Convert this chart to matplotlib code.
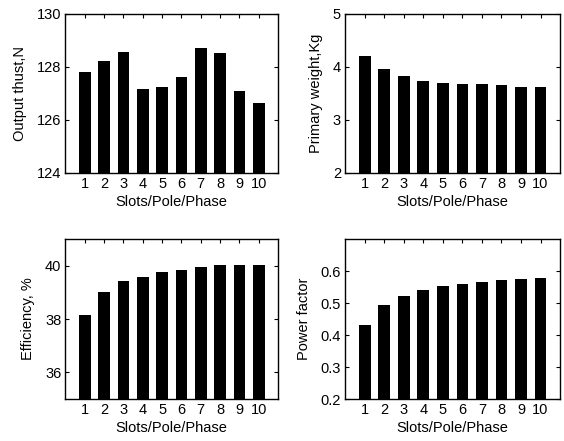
import numpy as np
import matplotlib.pyplot as plt

plt.rcParams['font.family'] = ['Liberation Sans', 'DejaVu Sans']

slots = np.arange(1, 11)
thrust = [127.82, 128.23, 128.57, 127.17, 127.22, 127.63, 128.70, 128.53, 127.08, 126.62]
weight = [4.21, 3.95, 3.82, 3.74, 3.69, 3.67, 3.67, 3.65, 3.61, 3.61]
efficiency = [38.16, 39.03, 39.42, 39.59, 39.77, 39.85, 39.96, 40.01, 40.01, 40.01]
power_factor = [0.430, 0.495, 0.522, 0.540, 0.554, 0.560, 0.565, 0.572, 0.575, 0.578]

panels = [
    (thrust, "Output thust,N", (124, 130), [124, 126, 128, 130], [0.116, 0.608, 0.377, 0.361]),
    (weight, "Primary weight,Kg", (2, 5), [2, 3, 4, 5], [0.612, 0.608, 0.381, 0.361]),
    (efficiency, "Efficiency, %", (35, 41), [36, 38, 40], [0.116, 0.095, 0.377, 0.363]),
    (power_factor, "Power factor", (0.2, 0.7), [0.2, 0.3, 0.4, 0.5, 0.6], [0.612, 0.095, 0.381, 0.363]),
]

fig = plt.figure(figsize=(5.64, 4.41), dpi=100)
for vals, ylab, ylim, yticks, pos in panels:
    ax = fig.add_axes(pos)
    ax.bar(slots, np.array(vals) - ylim[0], bottom=ylim[0], width=0.6, color='black')
    ax.set_xlim(0, 11)
    ax.set_ylim(*ylim)
    ax.set_xticks(slots)
    ax.set_yticks(yticks)
    ax.set_xlabel("Slots/Pole/Phase", fontsize=10.5, labelpad=3)
    ax.set_ylabel(ylab, fontsize=10.5, labelpad=7)
    ax.tick_params(direction='in', top=True, right=True, length=3, width=0.8,
                   labelsize=10.5, pad=3)
    for s in ax.spines.values():
        s.set_linewidth(1.0)

fig.savefig("out.png", dpi=100)
